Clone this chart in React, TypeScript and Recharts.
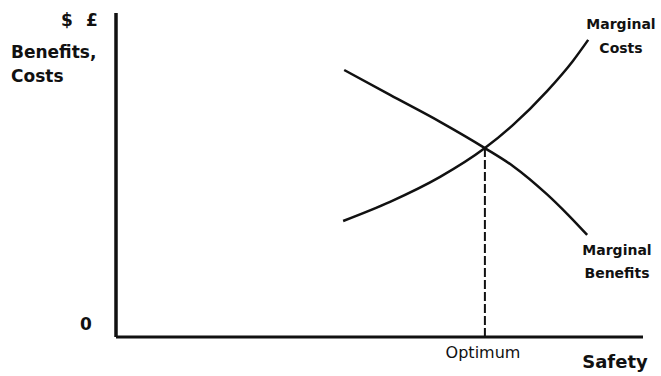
import { ComposedChart, Line, XAxis, YAxis, ReferenceLine } from 'recharts'

// Safety level (x) vs. marginal value (y), both on a 0–100 index scale
const benefitsX = [43.3, 52.0, 61.5, 70.0, 75.3, 81.8, 85.6, 89.4]
const benefitsY = [82.4, 74.7, 66.4, 58.3, 52.8, 44.0, 38.0, 31.5]

const costsX = [43.1, 52.0, 61.5, 70.0, 75.3, 81.8, 86.7, 89.6]
const costsY = [35.8, 41.7, 49.4, 58.3, 65.4, 75.9, 85.2, 91.7]

const optimumX = 70.0
const optimumY = 58.3

const benefitsData = benefitsX.map((x, i) => ({ x, y: benefitsY[i] }))
const costsData = costsX.map((x, i) => ({ x, y: costsY[i] }))

const W = 661
const H = 376
const bold = { fontFamily: 'DejaVu Sans', fontWeight: 700, fill: '#111' }
const plain = { fontFamily: 'DejaVu Sans', fontWeight: 400, fill: '#111' }

export default function App() {
  return (
    <div style={{ position: 'fixed', left: 0, top: 0, width: W, height: H, background: '#fff' }}>
      <ComposedChart width={W} height={H} margin={{ top: 13, right: 18, left: 115, bottom: 38 }}>
        <XAxis
          type="number"
          dataKey="x"
          domain={[0, 100]}
          height={1}
          tick={false}
          tickLine={false}
          axisLine={{ stroke: '#111', strokeWidth: 3 }}
        />
        <YAxis
          type="number"
          dataKey="y"
          domain={[0, 100]}
          width={1}
          tick={false}
          tickLine={false}
          axisLine={{ stroke: '#111', strokeWidth: 3.5 }}
        />
        <ReferenceLine
          segment={[{ x: optimumX, y: 0 }, { x: optimumX, y: optimumY }]}
          stroke="#111"
          strokeWidth={2}
          strokeDasharray="9 3"
        />
        <Line
          data={benefitsData}
          dataKey="y"
          type="monotone"
          stroke="#111"
          strokeWidth={2.5}
          dot={false}
          isAnimationActive={false}
        />
        <Line
          data={costsData}
          dataKey="y"
          type="monotone"
          stroke="#111"
          strokeWidth={2.5}
          dot={false}
          isAnimationActive={false}
        />
      </ComposedChart>
      <svg width={W} height={H} style={{ position: 'absolute', left: 0, top: 0, pointerEvents: 'none' }}>
        <text x={61} y={26} fontSize={17} {...bold}>$</text>
        <text x={86} y={26} fontSize={17} {...bold}>£</text>
        <text x={11} y={58} fontSize={17} {...bold}>Benefits,</text>
        <text x={11} y={82} fontSize={17} {...bold}>Costs</text>
        <text x={80} y={330} fontSize={17} {...bold}>0</text>
        <text x={621} y={29} fontSize={14} textAnchor="middle" {...bold}>Marginal</text>
        <text x={621} y={53} fontSize={14} textAnchor="middle" {...plain} fontWeight={600}>Costs</text>
        <text x={617} y={255} fontSize={14} textAnchor="middle" {...bold}>Marginal</text>
        <text x={617} y={278} fontSize={14} textAnchor="middle" {...plain} fontWeight={600}>Benefits</text>
        <text x={483} y={358} fontSize={16} textAnchor="middle" {...plain}>Optimum</text>
        <text x={615} y={368} fontSize={18} textAnchor="middle" {...bold}>Safety</text>
      </svg>
    </div>
  )
}
